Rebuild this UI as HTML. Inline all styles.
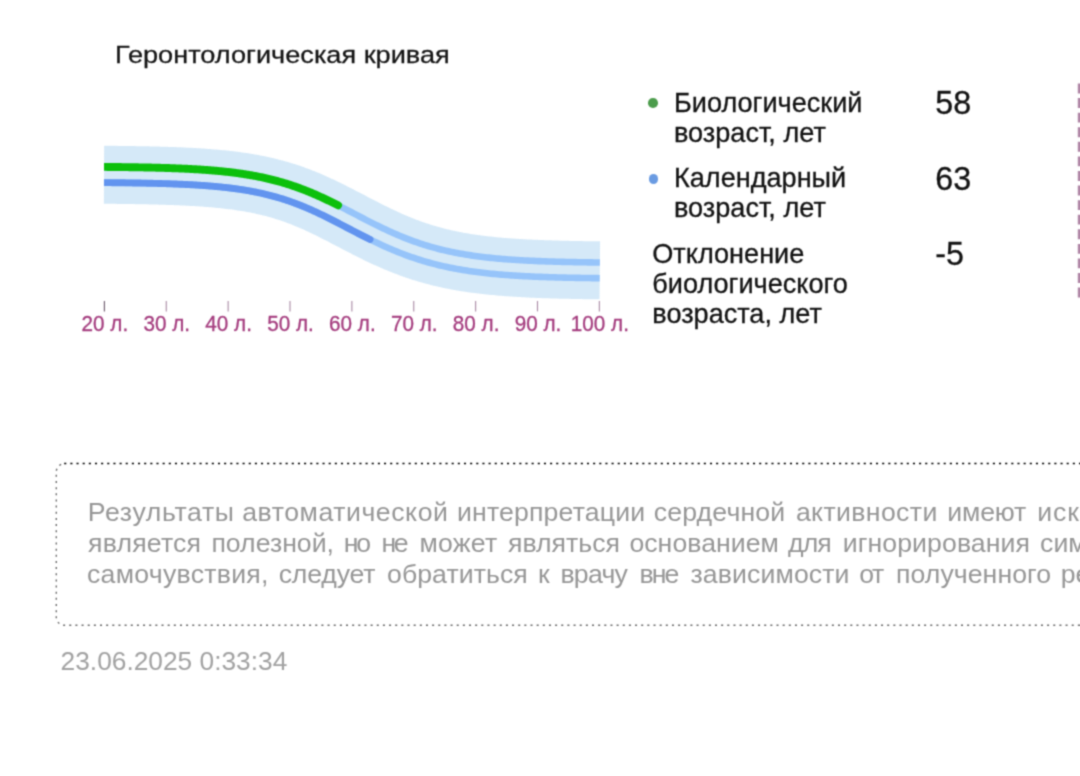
<!DOCTYPE html>
<html lang="ru"><head><meta charset="utf-8"><title>Геронтологическая кривая</title>
<style>
html,body{margin:0;padding:0;background:#fff;}
body{width:1080px;height:776px;overflow:hidden;position:relative;font-family:"Liberation Sans",sans-serif;color:#121212;}
.chart{position:absolute;left:0;top:0;}
.t{position:absolute;white-space:nowrap;line-height:30px;font-size:27.1px;-webkit-text-stroke:0.3px #121212;}
.title{left:115.0px;top:39.3px;font-size:27.15px;color:#141414;transform:scaleY(0.91);transform-origin:0 24px;}
.leg{left:674px;}
.num{left:935.2px;font-size:32.3px;}
.dot{position:absolute;width:9.6px;height:9.6px;border-radius:50%;}
.para{left:87.5px;top:497.6px;color:#9a9a9a;letter-spacing:0.62px;line-height:30.3px;word-spacing:0.6px}
.date{-webkit-text-stroke:0;left:60.6px;top:646.4px;color:#a2a2a2;font-size:26.3px;}
#wrap{position:absolute;left:0;top:0;width:1080px;height:776px;overflow:hidden;filter:url(#bl);}
</style></head><body><div id="wrap">
<svg class="chart" width="1080" height="776" viewBox="0 0 1080 776">
<defs><filter id="bl" x="0" y="0" width="100%" height="100%" color-interpolation-filters="sRGB"><feConvolveMatrix order="3" kernelMatrix="0.040 0.120 0.040 0.120 0.360 0.120 0.040 0.120 0.040" divisor="1" edgeMode="duplicate" preserveAlpha="false"/></filter><clipPath id="cl"><rect x="104.0" y="100" width="600" height="250"/></clipPath></defs>
<path d="M104.00,174.76 L106.00,174.77 L108.00,174.79 L110.00,174.81 L112.00,174.83 L114.00,174.85 L116.00,174.87 L117.99,174.89 L119.99,174.91 L121.99,174.93 L123.99,174.96 L125.99,174.98 L127.99,175.01 L129.99,175.04 L131.99,175.07 L133.99,175.10 L135.99,175.13 L137.99,175.17 L139.99,175.20 L141.98,175.24 L143.98,175.28 L145.98,175.32 L147.98,175.36 L149.98,175.40 L151.98,175.45 L153.98,175.49 L155.98,175.54 L157.98,175.59 L159.98,175.65 L161.98,175.71 L163.98,175.76 L165.97,175.83 L167.97,175.89 L169.97,175.96 L171.97,176.03 L173.97,176.10 L175.97,176.18 L177.97,176.26 L179.97,176.34 L181.97,176.43 L183.97,176.52 L185.97,176.61 L187.97,176.71 L189.97,176.82 L191.96,176.92 L193.96,177.03 L195.96,177.15 L197.96,177.27 L199.96,177.40 L201.96,177.53 L203.96,177.67 L205.96,177.82 L207.96,177.97 L209.96,178.12 L211.96,178.29 L213.96,178.46 L215.95,178.63 L217.95,178.82 L219.95,179.01 L221.95,179.21 L223.95,179.42 L225.95,179.64 L227.95,179.86 L229.95,180.10 L231.95,180.34 L233.95,180.60 L235.95,180.86 L237.95,181.14 L239.95,181.42 L241.94,181.72 L243.94,182.03 L245.94,182.35 L247.94,182.68 L249.94,183.02 L251.94,183.38 L253.94,183.75 L255.94,184.14 L257.94,184.54 L259.94,184.95 L261.94,185.38 L263.94,185.82 L265.93,186.28 L267.93,186.75 L269.93,187.24 L271.93,187.75 L273.93,188.27 L275.93,188.81 L277.93,189.37 L279.93,189.94 L281.93,190.54 L283.93,191.15 L285.93,191.78 L287.93,192.42 L289.92,193.09 L291.92,193.77 L293.92,194.47 L295.92,195.19 L297.92,195.93 L299.92,196.69 L301.92,197.46 L303.92,198.26 L305.92,199.07 L307.92,199.89 L309.92,200.74 L311.92,201.60 L313.92,202.48 L315.91,203.37 L317.91,204.28 L319.91,205.21 L321.91,206.14 L323.91,207.10 L325.91,208.06 L327.91,209.04 L329.91,210.02 L331.91,211.02 L333.91,212.03 L335.91,213.04 L337.91,214.06 L339.90,215.09 L341.90,216.13 L343.90,217.16 L345.90,218.21 L347.90,219.25 L349.90,220.30 L351.90,221.34 L353.90,222.39 L355.90,223.43 L357.90,224.47 L359.90,225.51 L361.90,226.55 L363.90,227.58 L365.89,228.60 L367.89,229.61 L369.89,230.62 L371.89,231.62 L373.89,232.61 L375.89,233.59 L377.89,234.56 L379.89,235.51 L381.89,236.46 L383.89,237.39 L385.89,238.31 L387.89,239.22 L389.88,240.11 L391.88,240.99 L393.88,241.85 L395.88,242.70 L397.88,243.53 L399.88,244.35 L401.88,245.15 L403.88,245.94 L405.88,246.71 L407.88,247.46 L409.88,248.20 L411.88,248.92 L413.88,249.62 L415.87,250.31 L417.87,250.98 L419.87,251.64 L421.87,252.28 L423.87,252.90 L425.87,253.51 L427.87,254.10 L429.87,254.67 L431.87,255.23 L433.87,255.77 L435.87,256.30 L437.87,256.81 L439.86,257.31 L441.86,257.79 L443.86,258.26 L445.86,258.71 L447.86,259.15 L449.86,259.58 L451.86,259.99 L453.86,260.39 L455.86,260.78 L457.86,261.15 L459.86,261.51 L461.86,261.86 L463.85,262.20 L465.85,262.53 L467.85,262.84 L469.85,263.15 L471.85,263.44 L473.85,263.72 L475.85,264.00 L477.85,264.26 L479.85,264.52 L481.85,264.76 L483.85,265.00 L485.85,265.23 L487.85,265.45 L489.84,265.66 L491.84,265.87 L493.84,266.06 L495.84,266.25 L497.84,266.43 L499.84,266.61 L501.84,266.78 L503.84,266.94 L505.84,267.10 L507.84,267.25 L509.84,267.39 L511.84,267.53 L513.83,267.67 L515.83,267.79 L517.83,267.92 L519.83,268.04 L521.83,268.15 L523.83,268.26 L525.83,268.37 L527.83,268.47 L529.83,268.57 L531.83,268.66 L533.83,268.75 L535.83,268.84 L537.83,268.92 L539.82,269.00 L541.82,269.08 L543.82,269.15 L545.82,269.22 L547.82,269.29 L549.82,269.35 L551.82,269.42 L553.82,269.48 L555.82,269.53 L557.82,269.59 L559.82,269.64 L561.82,269.69 L563.81,269.74 L565.81,269.79 L567.81,269.83 L569.81,269.88 L571.81,269.92 L573.81,269.96 L575.81,270.00 L577.81,270.03 L579.81,270.07 L581.81,270.10 L583.81,270.13 L585.81,270.16 L587.80,270.19 L589.80,270.22 L591.80,270.25 L593.80,270.28 L595.80,270.30 L597.80,270.33 L599.80,270.35" fill="none" stroke="#d5e9f8" stroke-width="58"/>
<path d="M104.06,166.91 L106.07,166.92 L108.07,166.94 L110.07,166.96 L112.07,166.98 L114.08,167.00 L116.08,167.02 L118.08,167.04 L120.08,167.06 L122.09,167.09 L124.09,167.11 L126.09,167.14 L128.10,167.16 L130.10,167.19 L132.11,167.22 L134.11,167.25 L136.12,167.28 L138.12,167.32 L140.13,167.35 L142.13,167.39 L144.14,167.43 L146.14,167.47 L148.15,167.51 L150.16,167.55 L152.16,167.60 L154.17,167.65 L156.18,167.70 L158.19,167.75 L160.19,167.80 L162.20,167.86 L164.21,167.92 L166.22,167.98 L168.23,168.04 L170.24,168.11 L172.25,168.18 L174.27,168.26 L176.28,168.33 L178.29,168.41 L180.30,168.50 L182.32,168.59 L184.33,168.68 L186.35,168.77 L188.36,168.87 L190.38,168.98 L192.40,169.08 L194.41,169.20 L196.43,169.32 L198.45,169.44 L200.47,169.57 L202.49,169.70 L204.51,169.84 L206.54,169.99 L208.56,170.14 L210.58,170.30 L212.61,170.46 L214.64,170.64 L216.66,170.82 L218.69,171.00 L220.72,171.20 L222.75,171.40 L224.78,171.61 L226.81,171.84 L228.85,172.07 L230.88,172.30 L232.92,172.55 L234.96,172.81 L237.00,173.08 L239.04,173.36 L241.08,173.65 L243.12,173.96 L245.16,174.27 L247.21,174.60 L249.25,174.94 L251.30,175.29 L253.35,175.66 L255.40,176.04 L257.45,176.43 L259.50,176.84 L261.55,177.27 L263.61,177.71 L265.66,178.16 L267.72,178.63 L269.77,179.12 L271.83,179.63 L273.89,180.15 L275.95,180.69 L278.01,181.24 L280.07,181.82 L282.13,182.41 L284.19,183.02 L286.25,183.65 L288.31,184.30 L290.37,184.96 L292.43,185.65 L294.49,186.35 L296.55,187.08 L298.61,187.82 L300.67,188.58 L302.73,189.36 L304.79,190.15 L306.84,190.97 L308.90,191.80 L310.95,192.65 L313.00,193.52 L315.05,194.40 L317.10,195.30 L319.14,196.22 L321.19,197.15 L323.23,198.09 L325.27,199.05 L327.30,200.02 L329.34,201.00 L331.37,201.99 L333.40,202.99 L335.43,204.00 L337.45,205.02 L339.47,206.05 L341.49,207.08 L343.50,208.12 L345.52,209.16 L347.53,210.20 L349.53,211.25 L351.54,212.29 L353.54,213.34 L355.54,214.39 L357.54,215.43 L359.53,216.47 L361.52,217.51 L363.51,218.54 L365.49,219.57 L367.48,220.59 L369.46,221.60 L371.44,222.61 L373.41,223.60 L375.39,224.59 L377.36,225.57 L379.33,226.53 L381.30,227.48 L383.26,228.43 L385.23,229.35 L387.19,230.27 L389.15,231.17 L391.11,232.06 L393.06,232.93 L395.02,233.79 L396.97,234.64 L398.93,235.46 L400.88,236.28 L402.83,237.08 L404.78,237.86 L406.73,238.62 L408.67,239.37 L410.62,240.11 L412.57,240.82 L414.51,241.53 L416.46,242.21 L418.40,242.88 L420.34,243.53 L422.29,244.17 L424.23,244.79 L426.18,245.40 L428.12,245.98 L430.06,246.56 L432.01,247.12 L433.95,247.66 L435.90,248.19 L437.84,248.70 L439.79,249.20 L441.73,249.68 L443.68,250.15 L445.63,250.61 L447.57,251.05 L449.52,251.48 L451.47,251.89 L453.42,252.30 L455.37,252.69 L457.33,253.06 L459.28,253.43 L461.23,253.78 L463.19,254.12 L465.14,254.46 L467.10,254.78 L469.06,255.08 L471.02,255.38 L472.97,255.67 L474.94,255.95 L476.90,256.22 L478.86,256.48 L480.82,256.73 L482.79,256.97 L484.75,257.20 L486.72,257.43 L488.69,257.64 L490.66,257.85 L492.63,258.05 L494.60,258.25 L496.57,258.44 L498.54,258.61 L500.51,258.79 L502.49,258.96 L504.46,259.12 L506.44,259.27 L508.42,259.42 L510.39,259.56 L512.37,259.70 L514.35,259.83 L516.33,259.96 L518.31,260.08 L520.29,260.20 L522.27,260.31 L524.25,260.42 L526.24,260.53 L528.22,260.63 L530.20,260.72 L532.19,260.82 L534.17,260.91 L536.16,260.99 L538.14,261.08 L540.13,261.15 L542.12,261.23 L544.11,261.30 L546.09,261.37 L548.08,261.44 L550.07,261.51 L552.06,261.57 L554.05,261.63 L556.04,261.69 L558.03,261.74 L560.02,261.79 L562.01,261.84 L564.00,261.89 L565.99,261.94 L567.99,261.98 L569.98,262.03 L571.97,262.07 L573.96,262.11 L575.96,262.15 L577.95,262.18 L579.94,262.22 L581.94,262.25 L583.93,262.28 L585.92,262.31 L587.92,262.34 L589.91,262.37 L591.91,262.40 L593.90,262.43 L595.90,262.45 L597.89,262.48 L599.89,262.50" fill="none" stroke="#96c4fa" stroke-width="6.6"/>
<path d="M103.94,182.61 L105.93,182.62 L107.93,182.64 L109.92,182.66 L111.92,182.68 L113.92,182.70 L115.91,182.72 L117.91,182.74 L119.90,182.76 L121.90,182.78 L123.89,182.81 L125.89,182.83 L127.88,182.86 L129.88,182.89 L131.87,182.92 L133.86,182.95 L135.86,182.98 L137.85,183.01 L139.85,183.05 L141.84,183.09 L143.83,183.12 L145.82,183.16 L147.82,183.21 L149.81,183.25 L151.80,183.29 L153.79,183.34 L155.78,183.39 L157.77,183.44 L159.76,183.50 L161.75,183.55 L163.74,183.61 L165.73,183.67 L167.72,183.74 L169.70,183.80 L171.69,183.87 L173.68,183.95 L175.66,184.02 L177.65,184.10 L179.64,184.18 L181.62,184.27 L183.60,184.36 L185.59,184.45 L187.57,184.55 L189.55,184.65 L191.53,184.76 L193.51,184.87 L195.49,184.99 L197.47,185.11 L199.45,185.23 L201.43,185.37 L203.41,185.50 L205.38,185.65 L207.36,185.79 L209.33,185.95 L211.30,186.11 L213.28,186.28 L215.25,186.45 L217.22,186.63 L219.19,186.82 L221.15,187.02 L223.12,187.23 L225.09,187.44 L227.05,187.66 L229.01,187.89 L230.98,188.13 L232.94,188.38 L234.90,188.64 L236.86,188.91 L238.81,189.19 L240.77,189.48 L242.73,189.78 L244.68,190.09 L246.63,190.42 L248.58,190.76 L250.53,191.10 L252.48,191.47 L254.43,191.84 L256.38,192.23 L258.32,192.63 L260.27,193.05 L262.21,193.48 L264.15,193.92 L266.09,194.38 L268.03,194.86 L269.97,195.35 L271.91,195.86 L273.85,196.38 L275.79,196.92 L277.73,197.48 L279.67,198.05 L281.60,198.65 L283.54,199.25 L285.48,199.88 L287.42,200.53 L289.35,201.19 L291.29,201.87 L293.23,202.57 L295.17,203.28 L297.11,204.02 L299.05,204.77 L301.00,205.54 L302.94,206.33 L304.89,207.14 L306.83,207.96 L308.78,208.80 L310.73,209.66 L312.69,210.53 L314.64,211.42 L316.60,212.32 L318.56,213.24 L320.52,214.18 L322.48,215.12 L324.45,216.08 L326.42,217.05 L328.39,218.04 L330.37,219.03 L332.34,220.04 L334.32,221.05 L336.31,222.07 L338.29,223.10 L340.28,224.13 L342.27,225.17 L344.26,226.21 L346.26,227.25 L348.26,228.30 L350.26,229.35 L352.27,230.39 L354.27,231.44 L356.28,232.48 L358.30,233.52 L360.31,234.56 L362.33,235.59 L364.35,236.62 L366.37,237.64 L368.40,238.65 L370.42,239.65 L372.45,240.64 L374.48,241.63 L376.52,242.60 L378.55,243.56 L380.59,244.51 L382.62,245.45 L384.66,246.38 L386.71,247.29 L388.75,248.19 L390.79,249.07 L392.84,249.94 L394.89,250.79 L396.93,251.63 L398.98,252.45 L401.03,253.25 L403.08,254.04 L405.14,254.82 L407.19,255.57 L409.24,256.31 L411.29,257.04 L413.35,257.74 L415.40,258.43 L417.46,259.11 L419.51,259.76 L421.57,260.40 L423.62,261.03 L425.68,261.63 L427.73,262.22 L429.78,262.80 L431.84,263.35 L433.89,263.89 L435.94,264.42 L438.00,264.93 L440.05,265.43 L442.10,265.91 L444.15,266.37 L446.20,266.82 L448.25,267.26 L450.30,267.68 L452.34,268.09 L454.39,268.49 L456.44,268.87 L458.48,269.24 L460.52,269.60 L462.57,269.94 L464.61,270.28 L466.65,270.60 L468.69,270.91 L470.73,271.21 L472.77,271.50 L474.80,271.78 L476.84,272.05 L478.87,272.31 L480.91,272.56 L482.94,272.80 L484.97,273.03 L487.00,273.25 L489.03,273.47 L491.06,273.68 L493.09,273.88 L495.12,274.07 L497.14,274.25 L499.17,274.43 L501.19,274.60 L503.21,274.77 L505.24,274.92 L507.26,275.08 L509.28,275.22 L511.30,275.36 L513.32,275.50 L515.34,275.63 L517.36,275.75 L519.38,275.87 L521.39,275.99 L523.41,276.10 L525.42,276.21 L527.44,276.31 L529.45,276.41 L531.47,276.50 L533.48,276.59 L535.49,276.68 L537.51,276.76 L539.52,276.84 L541.53,276.92 L543.54,276.99 L545.55,277.06 L547.56,277.13 L549.57,277.20 L551.58,277.26 L553.59,277.32 L555.60,277.38 L557.60,277.44 L559.61,277.49 L561.62,277.54 L563.63,277.59 L565.63,277.64 L567.64,277.68 L569.65,277.72 L571.65,277.77 L573.66,277.81 L575.66,277.84 L577.67,277.88 L579.67,277.92 L581.68,277.95 L583.68,277.98 L585.69,278.01 L587.69,278.04 L589.69,278.07 L591.70,278.10 L593.70,278.13 L595.70,278.15 L597.71,278.17 L599.71,278.20" fill="none" stroke="#96c4fa" stroke-width="6.6"/>
<g clip-path="url(#cl)">
<path d="M97.94,182.56 L98.94,182.57 L99.94,182.57 L100.94,182.58 L101.93,182.59 L102.93,182.60 L103.93,182.61 L104.92,182.61 L105.92,182.62 L106.92,182.63 L107.91,182.64 L108.91,182.65 L109.91,182.66 L110.90,182.67 L111.90,182.68 L112.90,182.69 L113.89,182.70 L114.89,182.71 L115.88,182.72 L116.88,182.73 L117.88,182.74 L118.87,182.75 L119.87,182.76 L120.87,182.77 L121.86,182.78 L122.86,182.80 L123.85,182.81 L124.85,182.82 L125.85,182.83 L126.84,182.85 L127.84,182.86 L128.83,182.87 L129.83,182.89 L130.83,182.90 L131.82,182.92 L132.82,182.93 L133.81,182.95 L134.81,182.96 L135.80,182.98 L136.80,183.00 L137.79,183.01 L138.79,183.03 L139.78,183.05 L140.78,183.07 L141.77,183.08 L142.77,183.10 L143.76,183.12 L144.76,183.14 L145.75,183.16 L146.75,183.18 L147.74,183.20 L148.74,183.22 L149.73,183.25 L150.73,183.27 L151.72,183.29 L152.72,183.32 L153.71,183.34 L154.70,183.36 L155.70,183.39 L156.69,183.41 L157.68,183.44 L158.68,183.47 L159.67,183.49 L160.67,183.52 L161.66,183.55 L162.65,183.58 L163.65,183.61 L164.64,183.64 L165.63,183.67 L166.62,183.70 L167.62,183.73 L168.61,183.77 L169.60,183.80 L170.59,183.83 L171.59,183.87 L172.58,183.90 L173.57,183.94 L174.56,183.98 L175.55,184.02 L176.55,184.06 L177.54,184.10 L178.53,184.14 L179.52,184.18 L180.51,184.22 L181.50,184.26 L182.49,184.31 L183.48,184.35 L184.47,184.40 L185.46,184.45 L186.45,184.50 L187.44,184.55 L188.43,184.60 L189.42,184.65 L190.41,184.70 L191.40,184.75 L192.39,184.81 L193.38,184.86 L194.37,184.92 L195.36,184.98 L196.35,185.04 L197.33,185.10 L198.32,185.16 L199.31,185.23 L200.30,185.29 L201.28,185.36 L202.27,185.42 L203.26,185.49 L204.24,185.56 L205.23,185.63 L206.22,185.71 L207.20,185.78 L208.19,185.86 L209.17,185.94 L210.16,186.02 L211.15,186.10 L212.13,186.18 L213.11,186.26 L214.10,186.35 L215.08,186.44 L216.07,186.53 L217.05,186.62 L218.03,186.71 L219.02,186.81 L220.00,186.90 L220.98,187.00 L221.96,187.11 L222.95,187.21 L223.93,187.31 L224.91,187.42 L225.89,187.53 L226.87,187.64 L227.85,187.75 L228.83,187.87 L229.81,187.99 L230.79,188.11 L231.77,188.23 L232.75,188.36 L233.73,188.49 L234.71,188.62 L235.69,188.75 L236.66,188.88 L237.64,189.02 L238.62,189.16 L239.60,189.30 L240.57,189.45 L241.55,189.60 L242.52,189.75 L243.50,189.90 L244.48,190.06 L245.45,190.22 L246.43,190.38 L247.40,190.55 L248.37,190.72 L249.35,190.89 L250.32,191.07 L251.30,191.24 L252.27,191.43 L253.24,191.61 L254.21,191.80 L255.19,191.99 L256.16,192.18 L257.13,192.38 L258.10,192.58 L259.07,192.79 L260.04,193.00 L261.01,193.21 L261.98,193.43 L262.95,193.65 L263.92,193.87 L264.89,194.10 L265.86,194.33 L266.83,194.56 L267.80,194.80 L268.77,195.04 L269.74,195.29 L270.71,195.54 L271.67,195.79 L272.64,196.05 L273.61,196.32 L274.58,196.58 L275.55,196.85 L276.51,197.13 L277.48,197.41 L278.45,197.69 L279.42,197.98 L280.38,198.27 L281.35,198.57 L282.32,198.87 L283.29,199.17 L284.25,199.48 L285.22,199.80 L286.19,200.12 L287.16,200.44 L288.12,200.77 L289.09,201.10 L290.06,201.43 L291.03,201.77 L291.99,202.12 L292.96,202.47 L293.93,202.82 L294.90,203.18 L295.87,203.55 L296.84,203.91 L297.81,204.29 L298.78,204.66 L299.75,205.04 L300.72,205.43 L301.69,205.82 L302.66,206.21 L303.63,206.61 L304.60,207.02 L305.57,207.42 L306.54,207.84 L307.52,208.25 L308.49,208.67 L309.46,209.10 L310.44,209.53 L311.41,209.96 L312.39,210.40 L313.36,210.84 L314.34,211.28 L315.32,211.73 L316.29,212.18 L317.27,212.64 L318.25,213.10 L319.23,213.56 L320.21,214.03 L321.19,214.50 L322.17,214.97 L323.15,215.45 L324.13,215.93 L325.12,216.41 L326.10,216.90 L327.08,217.38 L328.07,217.88 L329.05,218.37 L330.04,218.87 L331.03,219.37 L332.01,219.87 L333.00,220.37 L333.99,220.88 L334.98,221.39 L335.97,221.89 L336.96,222.41 L337.95,222.92 L338.94,223.43 L339.94,223.95 L340.93,224.47 L341.92,224.99 L342.92,225.50 L343.92,226.03 L344.91,226.55 L345.91,227.07 L346.91,227.59 L347.90,228.11 L348.90,228.64 L349.90,229.16 L350.90,229.68 L351.91,230.20 L352.91,230.73 L353.91,231.25 L354.91,231.77 L355.92,232.29 L356.92,232.81 L357.93,233.33 L358.93,233.85 L359.94,234.37 L360.94,234.88 L361.95,235.40 L362.96,235.91 L363.97,236.42 L364.98,236.93 L365.99,237.44 L367.00,237.95 L368.01,238.45 L369.02,238.96 L370.03,239.46" fill="none" stroke="#6294ef" stroke-width="6.9" stroke-linecap="round"/>
<path d="M98.06,166.86 L99.05,166.87 L100.05,166.87 L101.05,166.88 L102.05,166.89 L103.05,166.90 L104.05,166.91 L105.05,166.91 L106.05,166.92 L107.05,166.93 L108.05,166.94 L109.05,166.95 L110.05,166.96 L111.05,166.97 L112.05,166.98 L113.05,166.99 L114.05,167.00 L115.05,167.01 L116.05,167.02 L117.05,167.03 L118.05,167.04 L119.05,167.05 L120.05,167.06 L121.05,167.07 L122.05,167.08 L123.05,167.10 L124.05,167.11 L125.05,167.12 L126.05,167.13 L127.05,167.15 L128.05,167.16 L129.05,167.18 L130.05,167.19 L131.05,167.20 L132.05,167.22 L133.05,167.23 L134.05,167.25 L135.05,167.27 L136.05,167.28 L137.05,167.30 L138.06,167.32 L139.06,167.33 L140.06,167.35 L141.06,167.37 L142.06,167.39 L143.06,167.41 L144.06,167.43 L145.06,167.45 L146.07,167.47 L147.07,167.49 L148.07,167.51 L149.07,167.53 L150.07,167.55 L151.07,167.57 L152.08,167.60 L153.08,167.62 L154.08,167.64 L155.08,167.67 L156.08,167.69 L157.09,167.72 L158.09,167.75 L159.09,167.77 L160.09,167.80 L161.10,167.83 L162.10,167.86 L163.10,167.89 L164.11,167.91 L165.11,167.95 L166.11,167.98 L167.12,168.01 L168.12,168.04 L169.12,168.07 L170.13,168.11 L171.13,168.14 L172.14,168.18 L173.14,168.22 L174.14,168.25 L175.15,168.29 L176.15,168.33 L177.16,168.37 L178.16,168.41 L179.17,168.45 L180.17,168.49 L181.18,168.54 L182.18,168.58 L183.19,168.62 L184.19,168.67 L185.20,168.72 L186.21,168.77 L187.21,168.81 L188.22,168.86 L189.22,168.92 L190.23,168.97 L191.24,169.02 L192.24,169.08 L193.25,169.13 L194.26,169.19 L195.27,169.25 L196.27,169.31 L197.28,169.37 L198.29,169.43 L199.30,169.49 L200.31,169.56 L201.32,169.62 L202.32,169.69 L203.33,169.76 L204.34,169.83 L205.35,169.90 L206.36,169.98 L207.37,170.05 L208.38,170.13 L209.39,170.20 L210.40,170.28 L211.41,170.37 L212.43,170.45 L213.44,170.53 L214.45,170.62 L215.46,170.71 L216.47,170.80 L217.49,170.89 L218.50,170.99 L219.51,171.08 L220.52,171.18 L221.54,171.28 L222.55,171.38 L223.57,171.49 L224.58,171.59 L225.59,171.70 L226.61,171.81 L227.62,171.93 L228.64,172.04 L229.66,172.16 L230.67,172.28 L231.69,172.40 L232.70,172.53 L233.72,172.65 L234.74,172.78 L235.76,172.92 L236.77,173.05 L237.79,173.19 L238.81,173.33 L239.83,173.47 L240.85,173.62 L241.87,173.77 L242.89,173.92 L243.91,174.08 L244.93,174.23 L245.95,174.40 L246.97,174.56 L247.99,174.73 L249.01,174.90 L250.03,175.07 L251.05,175.25 L252.08,175.43 L253.10,175.61 L254.12,175.80 L255.15,175.99 L256.17,176.19 L257.19,176.38 L258.22,176.59 L259.24,176.79 L260.27,177.00 L261.29,177.21 L262.32,177.43 L263.34,177.65 L264.37,177.87 L265.39,178.10 L266.42,178.33 L267.44,178.57 L268.47,178.81 L269.50,179.05 L270.53,179.30 L271.55,179.56 L272.58,179.81 L273.61,180.07 L274.64,180.34 L275.66,180.61 L276.69,180.88 L277.72,181.16 L278.75,181.45 L279.78,181.73 L280.81,182.03 L281.83,182.32 L282.86,182.62 L283.89,182.93 L284.92,183.24 L285.95,183.56 L286.98,183.88 L288.01,184.20 L289.04,184.53 L290.06,184.86 L291.09,185.20 L292.12,185.54 L293.15,185.89 L294.18,186.24 L295.21,186.60 L296.24,186.96 L297.26,187.33 L298.29,187.70 L299.32,188.08 L300.35,188.46 L301.38,188.84 L302.40,189.23 L303.43,189.63 L304.46,190.03 L305.48,190.43 L306.51,190.84 L307.53,191.25 L308.56,191.67 L309.58,192.09 L310.61,192.51 L311.63,192.94 L312.66,193.37 L313.68,193.81 L314.70,194.25 L315.73,194.70 L316.75,195.15 L317.77,195.60 L318.79,196.06 L319.81,196.52 L320.83,196.99 L321.85,197.45 L322.87,197.93 L323.89,198.40 L324.91,198.88 L325.92,199.36 L326.94,199.84 L327.96,200.33 L328.97,200.82 L329.99,201.31 L331.00,201.81 L332.02,202.31 L333.03,202.81 L334.04,203.31 L335.05,203.82 L336.06,204.32 L337.07,204.83 L338.08,205.34" fill="none" stroke="#0cc00c" stroke-width="7.9" stroke-linecap="round"/>
</g>
<g stroke="#a98aa4" stroke-width="1.1"><line x1="104.40" y1="301" x2="104.40" y2="311.4" stroke="#6a586a"/><line x1="166.27" y1="301" x2="166.27" y2="311.4"/><line x1="228.14" y1="301" x2="228.14" y2="311.4"/><line x1="290.01" y1="301" x2="290.01" y2="311.4"/><line x1="351.88" y1="301" x2="351.88" y2="311.4"/><line x1="413.75" y1="301" x2="413.75" y2="311.4"/><line x1="475.62" y1="301" x2="475.62" y2="311.4"/><line x1="537.49" y1="301" x2="537.49" y2="311.4"/><line x1="599.36" y1="301" x2="599.36" y2="311.4"/></g>
<g transform="translate(0,331.5) scale(1,1.10) translate(0,-331.5)" font-size="20.7" fill="#a43c7e" stroke="#a43c7e" stroke-width="0.3" text-anchor="middle" font-family="'Liberation Sans',sans-serif"><text x="104.90" y="331.5">20 л.</text><text x="166.77" y="331.5">30 л.</text><text x="228.64" y="331.5">40 л.</text><text x="290.51" y="331.5">50 л.</text><text x="352.38" y="331.5">60 л.</text><text x="414.25" y="331.5">70 л.</text><text x="476.12" y="331.5">80 л.</text><text x="537.99" y="331.5">90 л.</text><text x="599.86" y="331.5">100 л.</text></g>
<line x1="1079" y1="83.5" x2="1079" y2="297.6" stroke="#b086a6" stroke-width="2.4" stroke-dasharray="9.9 4.68"/>
<path d="M64.2,463.55 H1100" fill="none" stroke="#000" stroke-width="1.5" stroke-dasharray="2.1 4.05"/>
<path d="M64.2,463.8 A8,8 0 0 0 56.3,471.6 V617.4 A8,8 0 0 0 64.2,625.3 H1100" fill="none" stroke="#686868" stroke-width="1.4" stroke-dasharray="2 4.15" stroke-dashoffset="3"/>
<g font-size="26.67" fill="#979797" font-family="'Liberation Sans',sans-serif"><text y="521.4"><tspan x="87.7" textLength="146.3">Результаты</tspan> <tspan x="242.2" textLength="205.7">автоматической</tspan> <tspan x="457.0" textLength="188.2">интерпретации</tspan> <tspan x="653.7" textLength="131.5">сердечной</tspan> <tspan x="795.9" textLength="141.4">активности</tspan> <tspan x="947.3" textLength="79.0">имеют</tspan> <tspan x="1037.3" textLength="41.9">иск</tspan><tspan>лючительно информационный характер. Данная информация</tspan></text>
<text y="551.6"><tspan x="88.0" textLength="113.0">является</tspan> <tspan x="211.4" textLength="122.6">полезной,</tspan> <tspan x="343.7" textLength="27.4">но</tspan> <tspan x="381.4" textLength="27.2">не</tspan> <tspan x="419.4" textLength="77.8">может</tspan> <tspan x="508.0" textLength="112.0">являться</tspan> <tspan x="629.4" textLength="149.5">основанием</tspan> <tspan x="788.0" textLength="43.7">для</tspan> <tspan x="842.7" textLength="187.3">игнорирования</tspan> <tspan x="1040.1">сим</tspan><tspan>птомов заболевания. При наличии жалоб и ухудшении</tspan></text>
<text y="582.5"><tspan x="87.0" textLength="181.4">самочувствия,</tspan> <tspan x="278.7" textLength="96.8">следует</tspan> <tspan x="387.0" textLength="140.7">обратиться</tspan> <tspan x="538.0" textLength="12.0">к</tspan> <tspan x="560.4" textLength="67.5">врачу</tspan> <tspan x="639.4" textLength="40.0">вне</tspan> <tspan x="690.4" textLength="159.1">зависимости</tspan> <tspan x="859.3" textLength="25.0">от</tspan> <tspan x="896.0" textLength="155.1">полученного</tspan> <tspan x="1060.7">ре</tspan><tspan>зультата автоматической интерпретации.</tspan></text></g>
</svg>
<div class="t title">Геронтологическая кривая</div>
<div class="dot" style="left:648px;top:98px;background:#4c9c4c"></div>
<div class="t leg" style="top:87.5px">Биологический<br>возраст, лет</div>
<div class="t num" style="top:88px">58</div>
<div class="dot" style="left:648.5px;top:174px;background:#6a9be2"></div>
<div class="t leg" style="top:163.3px">Календарный<br>возраст, лет</div>
<div class="t num" style="top:163.7px">63</div>
<div class="t leg" style="top:239.3px;left:652.3px">Отклонение<br>биологического<br>возраста, лет</div>
<div class="t num" style="top:239px">-5</div>
<div class="t date">23.06.2025 0:33:34</div>
</div></body></html>
